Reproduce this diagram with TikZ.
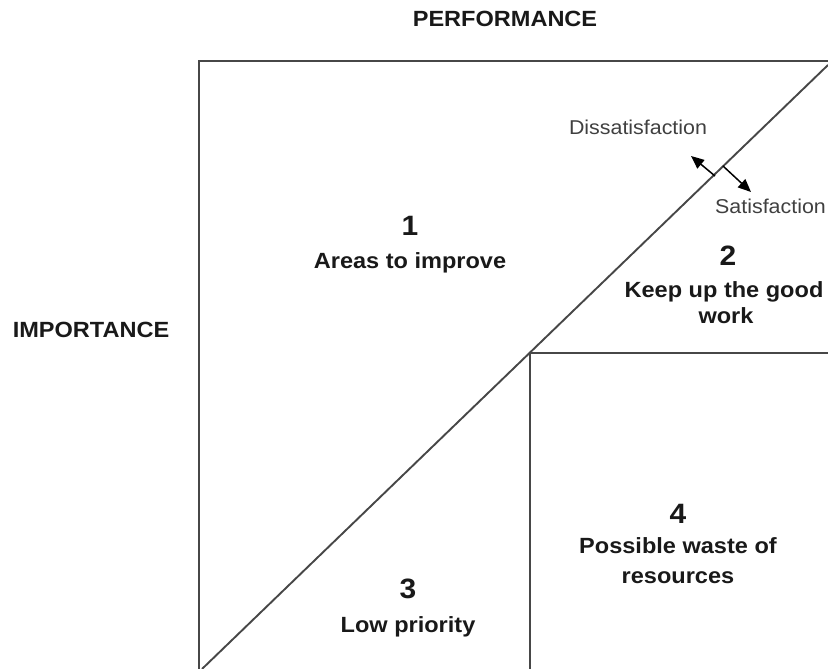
\documentclass[tikz,border=0pt]{standalone}
\usepackage{fontspec}
\setmainfont{Liberation Sans}[FakeStretch=1.07]
\usetikzlibrary{arrows.meta}
\begin{document}
\begin{tikzpicture}[x=1bp,y=-1bp,
  frame/.style={draw=black!72,line width=1.9bp},
  lbl/.style={font=\bfseries\fontsize{22bp}{26bp}\selectfont,text=black!90,inner sep=0pt,anchor=base},
  num/.style={font=\bfseries\fontsize{28bp}{30bp}\selectfont,text=black!90,inner sep=0pt,anchor=base},
  side/.style={font=\fontsize{20bp}{24bp}\selectfont,text=black!75,inner sep=0pt},
  arr/.style={draw=black,line width=1.5bp,-{Triangle[length=13bp,width=11bp]}}]
\useasboundingbox (0,0) rectangle (828,669);
% frame geometry
\coordinate (TL) at (199,61);
\coordinate (TR) at (828,61);
\coordinate (BL) at (199,669);
\coordinate (DB) at (202,669);
\coordinate (DT) at (828,65);
\coordinate (M) at (530,353);
\coordinate (MR) at (828,353);
\coordinate (MB) at (530,669);
\draw[frame] (BL) -- (TL) -- (TR);
\draw[frame] (DB) -- (DT);
\draw[frame] (M) -- (MR);
\draw[frame] (M) -- (MB);
% arrows
\coordinate (a1s) at (715,176);
\coordinate (a1e) at (691,156);
\coordinate (a2s) at (723,166);
\coordinate (a2e) at (751,192);
\draw[arr] (a1s) -- (a1e);
\draw[arr] (a2s) -- (a2e);
% axis labels
\node[lbl,anchor=center] (perf) at (505,19) {PERFORMANCE};
\node[lbl,anchor=center] (imp) at (91,330) {IMPORTANCE};
% side labels
\node[side,anchor=base] (dis) at (638,135) {Dissatisfaction};
\node[side,anchor=base west] (sat) at (715,213) {Satisfaction};
% quadrant 1
\node[num] (n1) at (410,235) {1};
\node[lbl] (t1) at (410,268) {Areas to improve};
% quadrant 2
\node[num] (n2) at (728,265) {2};
\node[lbl] (t2a) at (724,297) {Keep up the good};
\node[lbl] (t2b) at (726,323) {work};
% quadrant 3
\node[num] (n3) at (408,598) {3};
\node[lbl] (t3) at (408,632) {Low priority};
% quadrant 4
\node[num] (n4) at (678,523) {4};
\node[lbl] (t4a) at (678,553) {Possible waste of};
\node[lbl] (t4b) at (678,583) {resources};
\end{tikzpicture}
\end{document}
